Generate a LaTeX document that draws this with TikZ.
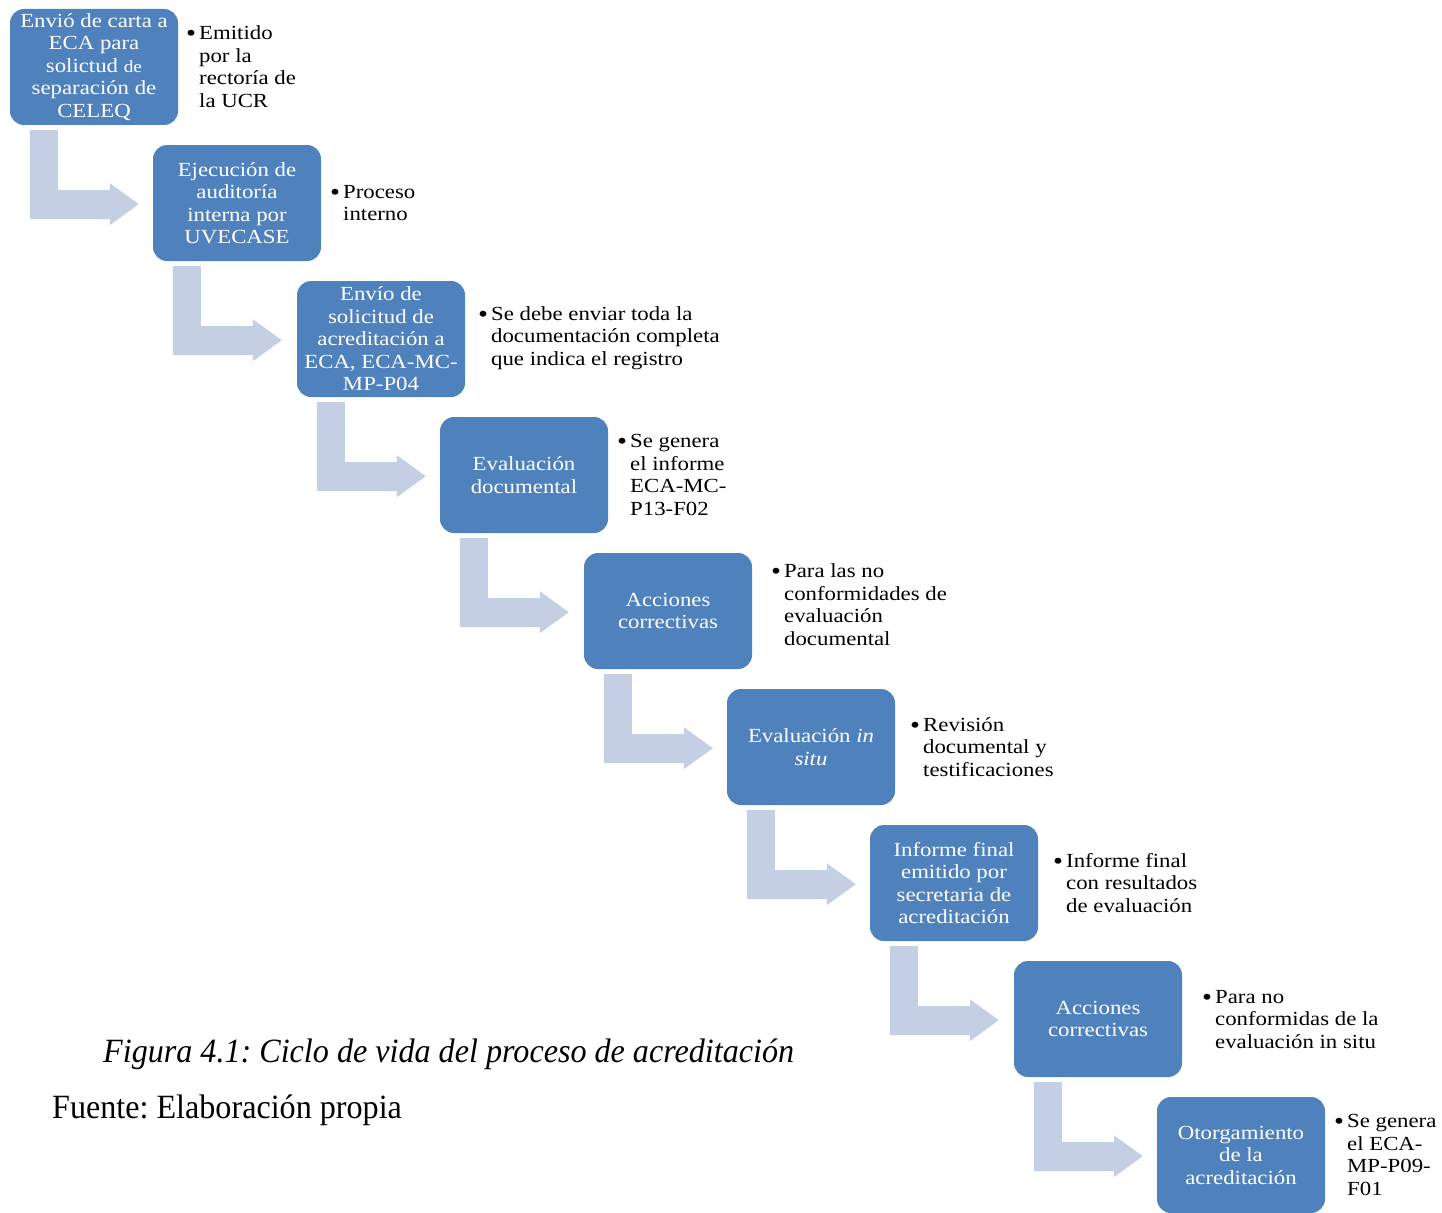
\documentclass[tikz,border=0pt]{standalone}
\usepackage{fontspec}
\setmainfont{Liberation Serif}
\newfontfamily\boxfont{Liberation Serif}[FakeStretch=1.14]
\newfontfamily\capfont{Liberation Serif}[FakeStretch=0.945]
\usetikzlibrary{calc}
\definecolor{boxblue}{HTML}{4F81BD}
\definecolor{arrowblue}{HTML}{C4CFE3}
\frenchspacing
\tikzset{
  stepbox/.style={rounded corners=14pt, fill=boxblue, minimum width=168pt, minimum height=116pt,
    inner sep=0pt, text=white, align=center, font={\boxfont\fontsize{20}{22.5}\selectfont}},
  notetext/.style={anchor=west, inner sep=0pt, text=black, font={\boxfont\fontsize{20}{22.5}\selectfont}},
  bentarrow/.style={fill=arrowblue, draw=none},
  captext/.style={anchor=base west, inner sep=0pt, font={\capfont\fontsize{34}{40}\selectfont}}
}
\newcommand{\bigbul}{\raisebox{-2.2pt}{\fontsize{25}{22.5}\selectfont\textbullet}}
\newcommand{\bul}[1]{\begin{tabular}{@{}l@{\hspace{3pt}}l@{}}#1\end{tabular}}
\begin{document}
\begin{tikzpicture}[x=1pt,y=-1pt]
\useasboundingbox (0,0) rectangle (1442,1212);
% boxes
\node[stepbox] (b1) at (94,67) {Envió de carta a\\ECA para\\solictud {\fontsize{17}{22.5}\selectfont de}\\separación de\\CELEQ};
\node[stepbox] (b2) at (237,203) {Ejecución de\\auditoría\\interna por\\UVECASE};
\node[stepbox] (b3) at (381,339) {Envío de\\solicitud de\\acreditación a\\ECA, ECA-MC-\\MP-P04};
\node[stepbox] (b4) at (524,475) {Evaluación\\documental};
\node[stepbox] (b5) at (668,611) {Acciones\\correctivas};
\node[stepbox] (b6) at (811,747) {Evaluación \textit{in}\\\textit{situ}};
\node[stepbox] (b7) at (954,883) {Informe final\\emitido por\\secretaria de\\acreditación};
\node[stepbox] (b8) at (1098,1019) {Acciones\\correctivas};
\node[stepbox] (b9) at (1241,1155) {Otorgamiento\\de la\\acreditación};
% bent arrows
\foreach \i in {1,...,8}{
  \fill[bentarrow] ($(b\i.south west)+(20,5)$) -- ++(28,0) -- ++(0,60) -- ++(52,0) -- ++(0,-7)
    -- ++(29,21) -- ++(-29,21) -- ++(0,-6) -- ++(-80,0) -- cycle;
}
% notes
\node[notetext] (n1) at (186,69) {\bul{\bigbul & Emitido\\ & por la\\ & rectoría de\\ & la UCR}};
\node[notetext] (n2) at (330,205) {\bul{\bigbul & Proceso\\ & interno}};
\node[notetext] (n3) at (478,338) {\bul{\bigbul & Se debe enviar toda la\\ & documentación completa\\ & que indica el registro}};
\node[notetext] (n4) at (617,477) {\bul{\bigbul & Se genera\\ & el informe\\ & ECA-MC-\\ & P13-F02}};
\node[notetext] (n5) at (771,607) {\bul{\bigbul & Para las no\\ & conformidades de\\ & evaluación\\ & documental}};
\node[notetext] (n6) at (910,749) {\bul{\bigbul & Revisión\\ & documental y\\ & testificaciones}};
\node[notetext] (n7) at (1053,885) {\bul{\bigbul & Informe final\\ & con resultados\\ & de evaluación}};
\node[notetext] (n8) at (1202,1021) {\bul{\bigbul & Para no\\ & conformidas de la\\ & evaluación in situ}};
\node[notetext] (n9) at (1334,1157) {\bul{\bigbul & Se genera\\ & el ECA-\\ & MP-P09-\\ & F01}};
% caption
\node[captext] (cap) at (103,1062) {\itshape Figura 4.1: Ciclo de vida del proceso de acreditación};
\node[captext] (src) at (52,1118) {Fuente: Elaboración propia};
\end{tikzpicture}
\end{document}
